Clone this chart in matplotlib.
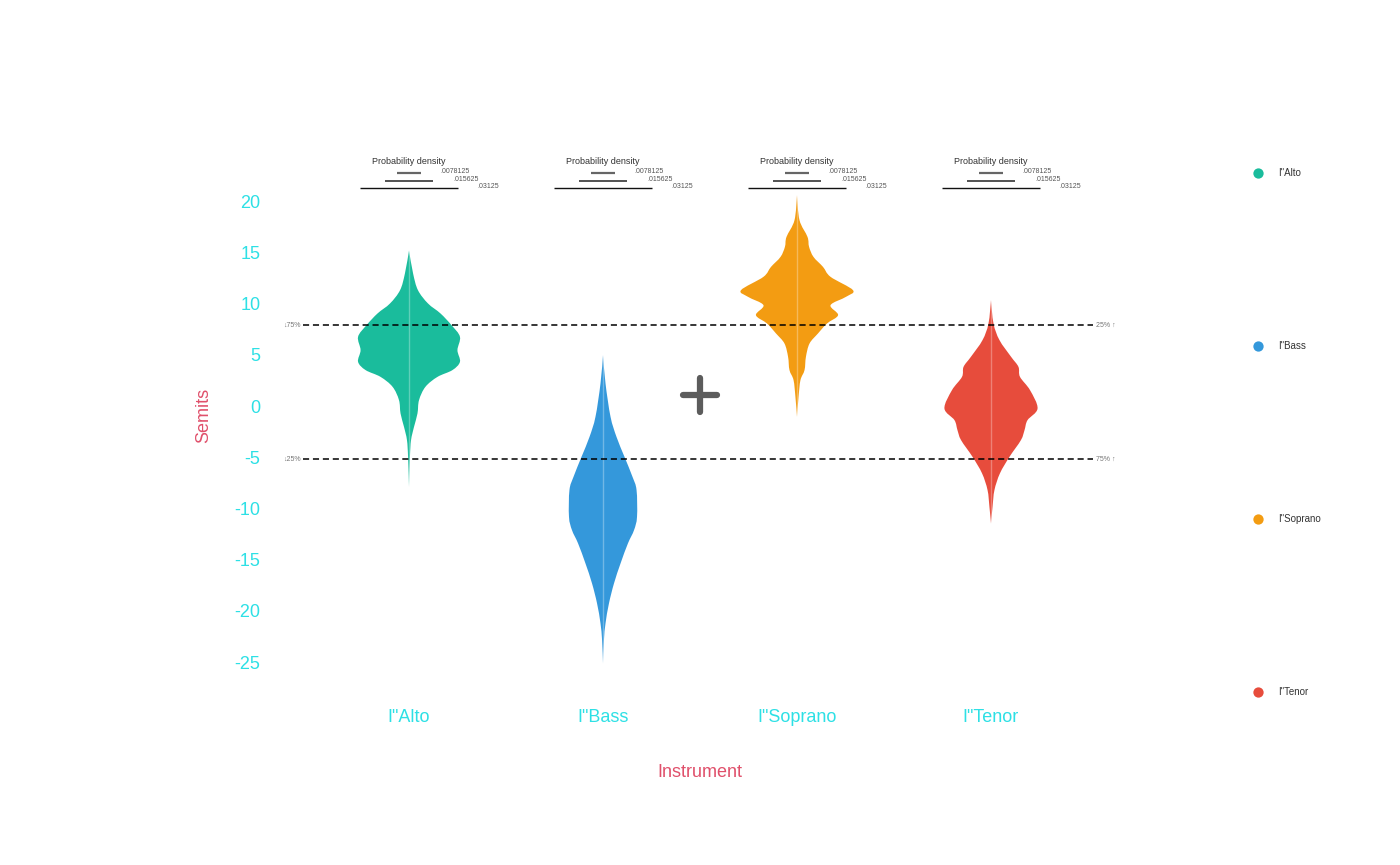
import matplotlib
matplotlib.use("Agg")
import matplotlib.pyplot as plt
from matplotlib.markers import MarkerStyle
from matplotlib.path import Path
from matplotlib.patches import PathPatch

plt.rcParams['font.family'] = ['Liberation Sans', 'DejaVu Sans']
plt.rcParams['axes.unicode_minus'] = False

# categories and colours
instruments = ["I\"Alto", "I\"Bass", "I\"Soprano", "I\"Tenor"]
colors = ["#1abc9c", "#3498db", "#f39c12", "#e74c3c"]

# density profiles: (semits, density)
alto_y = [15.2, 12.96, 11.33, 10.03, 9.05, 7.91, 6.77, 5.47, 4.33, 3.52, 2.86, 1.89, 0.59, -0.72, -2.02, -3.32, -4.95, -7.88]
alto_d = [0, 0.0026, 0.0057, 0.0121, 0.0201, 0.0271, 0.0325, 0.0309, 0.0325, 0.0277, 0.0182, 0.0105, 0.0064, 0.0054, 0.0032, 0.0013, 0.0006, 0]

bass_y = [4.98, 2.21, -1.04, -3.0, -4.95, -6.90, -8.20, -10.81, -12.11, -13.41, -15.36, -17.32, -19.27, -21.22, -22.85, -25.13]
bass_d = [0, 0.0016, 0.0048, 0.0086, 0.0137, 0.0188, 0.0214, 0.0217, 0.0198, 0.0159, 0.0112, 0.0070, 0.0038, 0.0016, 0.0006, 0]

sop_y = [20.6, 18.16, 16.53, 15.56, 14.58, 13.60, 12.63, 11.33, 10.68, 9.86, 8.89, 8.07, 7.10, 6.12, 4.82, 3.52, 2.54, 0.91, -1.04]
sop_d = [0, 0.0016, 0.0067, 0.0077, 0.0105, 0.0166, 0.0214, 0.0357, 0.0313, 0.0214, 0.0262, 0.0191, 0.0134, 0.0080, 0.0057, 0.0048, 0.0022, 0.0010, 0]

ten_y = [10.35, 8.07, 6.45, 4.82, 3.84, 2.86, 1.56, -0.23, -1.37, -2.34, -3.32, -4.95, -6.57, -8.20, -9.83, -11.46]
ten_d = [0, 0.0016, 0.0054, 0.0128, 0.0175, 0.0185, 0.0249, 0.0297, 0.0233, 0.0214, 0.0191, 0.0118, 0.0057, 0.0022, 0.0010, 0]

profiles = [(alto_y, alto_d), (bass_y, bass_d), (sop_y, sop_d), (ten_y, ten_d)]

q75 = 7.9
q25 = -5.2
grand_mean = 1.07

scale_densities = [0.0078125, 0.015625, 0.03125]
scale_labels = [".0078125", ".015625", ".03125"]

# full violin width (x units) per unit of density
width_per_density = 0.505 / 0.03125


def curve_through(xs, ys):
    # smooth outline through the points (Catmull-Rom as cubic Bezier segments)
    n = len(xs)
    verts = [(xs[0], ys[0])]
    for k in range(n - 1):
        a = k - 1 if k > 0 else k
        b = k + 2 if k + 2 < n else k + 1
        c1 = (xs[k] + (xs[k + 1] - xs[a]) / 6, ys[k] + (ys[k + 1] - ys[a]) / 6)
        c2 = (xs[k + 1] - (xs[b] - xs[k]) / 6, ys[k + 1] - (ys[b] - ys[k]) / 6)
        verts += [c1, c2, (xs[k + 1], ys[k + 1])]
    return verts


fig = plt.figure(figsize=(14, 8.65), dpi=100)
ax = fig.add_axes([0.2, 0.2023, 0.6, 0.6359])

for i, (ys, ds) in enumerate(profiles):
    half = [d * width_per_density / 2 for d in ds]
    right = curve_through([i + h for h in half], ys)
    left = curve_through([i - h for h in half[::-1]], ys[::-1])
    verts = right + left[1:] + [right[0]]
    codes = [Path.MOVETO] + [Path.CURVE4] * (len(right) - 1) + [Path.CURVE4] * (len(left) - 1) + [Path.CLOSEPOLY]
    ax.add_patch(PathPatch(Path(verts, codes), facecolor=colors[i], lw=0, zorder=2))
    ax.plot([i, i], [min(ys), max(ys)], color="white", alpha=0.3, lw=1, zorder=3)

    # probability density scale
    ax.text(i, 23.93, "Probability density", ha="center", va="center", fontsize=6.5, color="#333333")
    shades = ["#666666", "#444444", "#111111"]
    lws = [1.6, 1.3, 1.0]
    for k, d in enumerate(scale_densities):
        yy = 22.75 - k * 0.73
        h = d * width_per_density / 2
        ax.plot([i - h, i + h], [yy, yy], color=shades[k], lw=lws[k], solid_capstyle="butt")
        ax.text(i + h + 0.1, yy + 0.15, scale_labels[k], ha="left", va="center", fontsize=5, color="#555555")

# quantile lines
ax.hlines([q75, q25], -0.546, 3.526, colors="black", linestyles=(0, (4, 2.5)), lw=1.1, zorder=4)
ax.text(-0.56, q75, "↓75%", ha="right", va="center", fontsize=5, color="#777777")
ax.text(-0.56, q25, "↓25%", ha="right", va="center", fontsize=5, color="#777777")
ax.text(3.54, q75, "25% ↑", ha="left", va="center", fontsize=5, color="#777777")
ax.text(3.54, q25, "75% ↑", ha="left", va="center", fontsize=5, color="#777777")

# overall mean
ax.plot([1.5], [grand_mean], marker=MarkerStyle("+", capstyle="round"), ms=24, mew=4.5,
        color="#333333", alpha=0.8, ls="none", zorder=5)

ax.set_xlim(-0.665, 3.665)
ax.set_ylim(-27.73, 26)
ax.set_xticks(range(len(instruments)))
ax.set_xticklabels(instruments)
ax.set_yticks(range(-25, 21, 5))
ax.tick_params(axis="both", length=0, labelsize=13, labelcolor="#2de0e5")
ax.tick_params(axis="x", pad=14)
ax.tick_params(axis="y", pad=14)
for s in ax.spines.values():
    s.set_visible(False)
ax.set_xlabel("Instrument", fontsize=13, color="#e0506b", labelpad=27)
ax.set_ylabel("Semits", fontsize=13, color="#e0506b", labelpad=16)

# legend at the right
lax = fig.add_axes([1240 / 1400, 165 / 865, 160 / 1400, 535 / 865])
lax.set_xlim(0, 1)
lax.set_ylim(3.046, -0.046)
lax.axis("off")
for i, name in enumerate(instruments):
    lax.scatter([0.1125], [i], s=55, color=colors[i], lw=0)
    lax.text(0.2375, i, name, ha="left", va="center", fontsize=7, color="#333333")

fig.savefig("out.png", dpi=100)
